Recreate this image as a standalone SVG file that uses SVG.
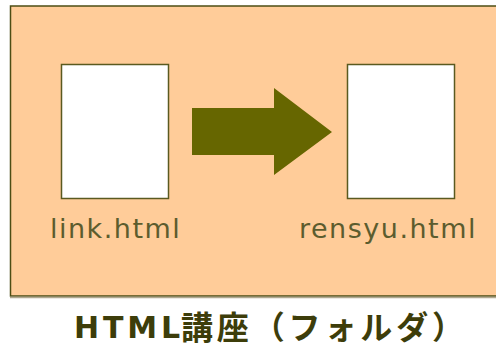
<svg xmlns="http://www.w3.org/2000/svg" width="496" height="349" viewBox="0 0 496 349">
<style>
.page{fill:#ffffff;stroke:#5a5a20;stroke-width:1.5}
.lbl{font-family:"DejaVu Sans",sans-serif;font-size:27px;fill:#5c5c2e;letter-spacing:1.5px}
.title{font-family:"DejaVu Sans","Noto Sans CJK JP",sans-serif;font-weight:bold;fill:#3d3d0a;font-size:30px}
.cjk{font-family:"Noto Sans CJK JP",sans-serif;font-size:32px}
</style>
<g id="folder">
<rect x="0" y="0" width="496" height="349" fill="#ffffff"/>
<rect x="10.5" y="6" width="490" height="290" fill="#ffcc99" stroke="#4d4d14" stroke-width="1.5"/>
<line x1="10" y1="297.5" x2="496" y2="297.5" stroke="#b0a890" stroke-width="1.5"/>
</g>
<g id="link">
<rect class="page" x="61.5" y="64.5" width="107" height="134"/>
<text class="lbl" x="50" y="238">link.html</text>
</g>
<g id="rensyu">
<rect class="page" x="347.5" y="64.5" width="107" height="134"/>
<text class="lbl" x="299" y="238">rensyu.html</text>
</g>
<g id="connectors">
<polygon points="192,108 274,108 274,88 332,132 274,175 274,155 192,155" fill="#666600"/>
</g>
<g id="caption">
<text class="title" x="74" y="338" textLength="106" lengthAdjust="spacing">HTML</text>
<text class="title cjk" x="181" y="339" textLength="283" lengthAdjust="spacing">講座（フォルダ）</text>
</g>
</svg>
